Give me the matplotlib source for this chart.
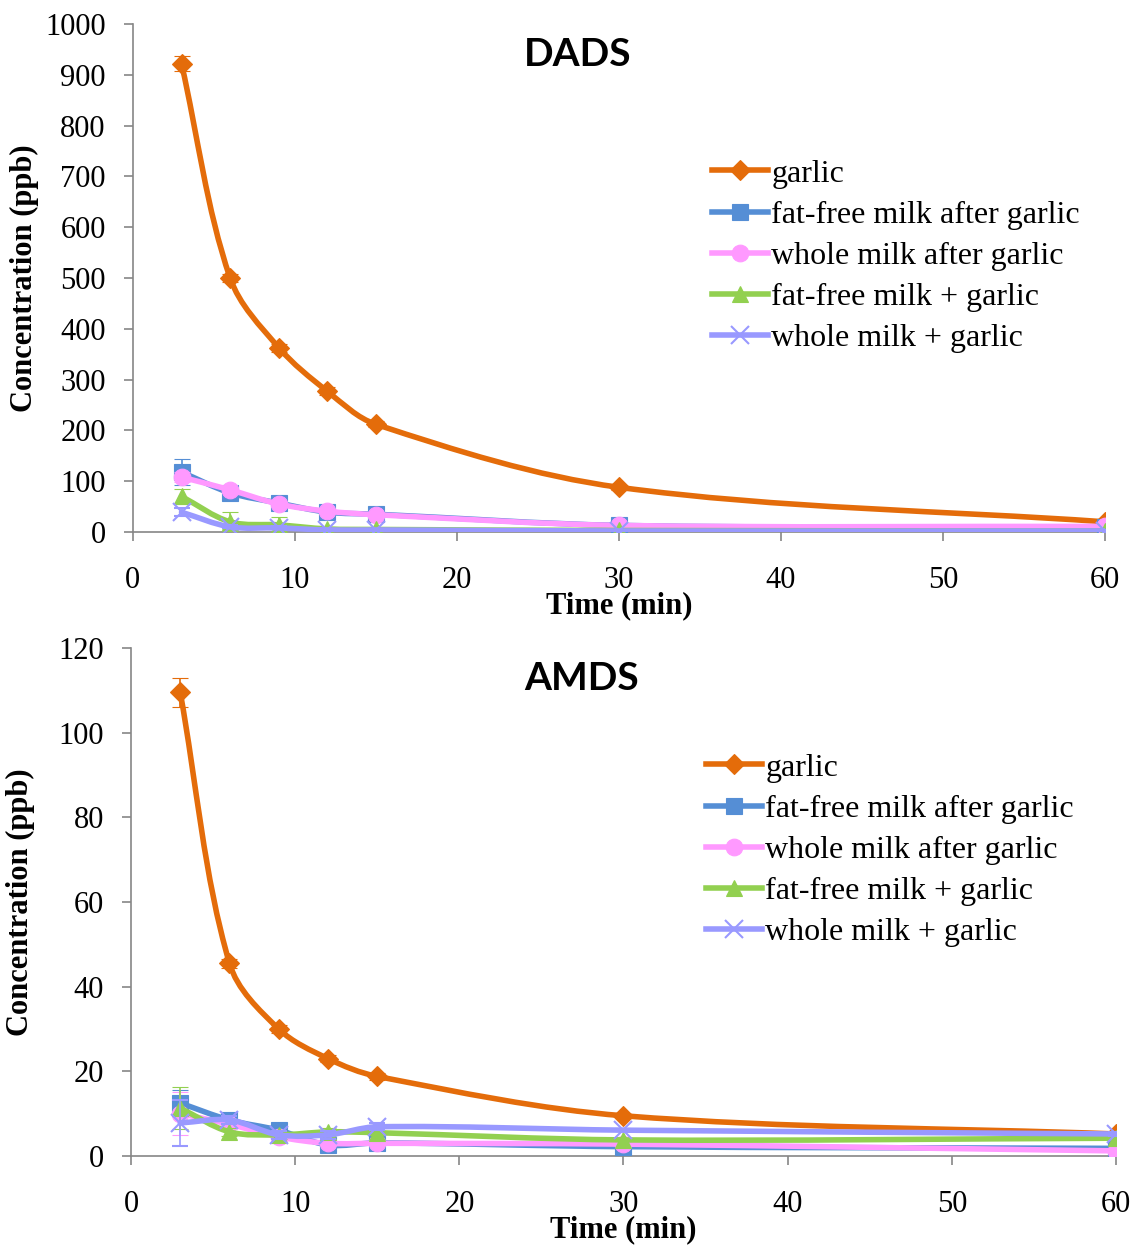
import numpy as np
import matplotlib
matplotlib.use('Agg')
import matplotlib.pyplot as plt
from matplotlib.path import Path
from matplotlib.patches import PathPatch
from matplotlib.lines import Line2D

plt.rcParams['font.family'] = ['Liberation Serif', 'DejaVu Serif']

time_min = [3, 6, 9, 12, 15, 30, 60]
labels = ['garlic', 'fat-free milk after garlic', 'whole milk after garlic',
          'fat-free milk + garlic', 'whole milk + garlic']

# DADS (ppb)
dads_garlic = [922, 500, 363, 277, 212, 88, 20]
dads_garlic_err = [15, 8, 8, 8, 6, 5, 3]
dads_ff_after = [118, 77, 57, 39, 35, 13, 9]
dads_ff_after_err = [26, 6, 5, 4, 3, 2, 1]
dads_whole_after = [108, 83, 55, 41, 34, 13, 11]
dads_whole_after_err = [10, 6, 5, 4, 3, 2, 1]
dads_ff_plus = [70, 20, 14, 6, 5, 3, 2]
dads_ff_plus_err = [15, 19, 15, 3, 2, 1, 1]
dads_whole_plus = [39, 10, 8, 4, 4, 2, 2]
dads_whole_plus_err = [8, 3, 3, 1, 1, 1, 1]

# AMDS (ppb)
amds_garlic = [109.5, 45.5, 30, 23, 18.8, 9.5, 5.2]
amds_garlic_err = [3.5, 1, 1, 0.8, 0.8, 0.5, 0.5]
amds_ff_after = [12.5, 8.5, 6.1, 2.6, 3.1, 2.2, 1.8]
amds_ff_after_err = [3, 1, 1, 0.5, 0.5, 0.3, 0.3]
amds_whole_after = [10, 7.5, 4.5, 3, 3, 2.8, 1.2]
amds_whole_after_err = [5, 1, 1, 0.5, 0.5, 0.3, 0.3]
amds_ff_plus = [11.3, 5.7, 5, 5.7, 5.5, 3.8, 4.2]
amds_ff_plus_err = [5, 1, 1, 1, 0.5, 0.3, 0.3]
amds_whole_plus = [7.8, 8.5, 5, 5, 6.9, 6.1, 5.2]
amds_whole_plus_err = [5.4, 1, 1, 1, 0.8, 0.3, 0.5]

colors = ['#E46C0A', '#558ED5', '#FF99FF', '#92D050', '#9999FF']
markers = ['D', 's', 'o', '^', 'x']
msizes = [10, 11, 12, 11, 13]


def smooth_path(ax, x, y):
    # smoothed line through the points: cubic Bezier with chord-length handles,
    # tangents computed in screen-like units so the shape doesn't depend on scale
    xmin, xmax = ax.get_xlim()
    ymin, ymax = ax.get_ylim()
    bbox = ax.get_position()
    fw, fh = ax.figure.get_size_inches()
    sx = bbox.width * fw / (xmax - xmin)
    sy = bbox.height * fh / (ymax - ymin)
    p = np.column_stack([np.asarray(x, float) * sx, np.asarray(y, float) * sy])
    n = len(p)
    d = np.hypot(*np.diff(p, axis=0).T)
    tang = np.zeros_like(p)
    for i in range(n):
        if i == 0:
            t = p[1] - p[0]
        elif i == n - 1:
            t = p[-1] - p[-2]
        else:
            t = (p[i + 1] - p[i - 1])
        tang[i] = t / np.hypot(*t)
    verts = [p[0]]
    codes = [Path.MOVETO]
    for i in range(n - 1):
        c1 = p[i] + tang[i] * d[i] / 3
        c2 = p[i + 1] - tang[i + 1] * d[i] / 3
        verts += [c1, c2, p[i + 1]]
        codes += [Path.CURVE4] * 3
    verts = np.array(verts) / [sx, sy]
    return Path(verts, codes)


def draw_panel(ax, series, errs, ymax, ystep, title, leg_anchor):
    ax.set_xlim(0, 60)
    ax.set_ylim(0, ymax)
    for k, (vals, err) in enumerate(zip(series, errs)):
        patch = PathPatch(smooth_path(ax, time_min, vals), facecolor='none',
                          edgecolor=colors[k], lw=4.0, capstyle='round',
                          joinstyle='round', zorder=2 + k)
        ax.add_patch(patch)
        ax.errorbar(time_min, vals, yerr=err, fmt=markers[k], color=colors[k],
                    ms=msizes[k], mew=1.5 if markers[k] == 'x' else 0.8,
                    ecolor=colors[k], elinewidth=1.2, capsize=6, capthick=1.2,
                    zorder=2 + k)
    ax.set_xticks(range(0, 61, 10))
    ax.set_yticks(np.arange(0, ymax + 1, ystep))
    for s in ['top', 'right']:
        ax.spines[s].set_visible(False)
    for s in ['left', 'bottom']:
        ax.spines[s].set_color('#868686')
        ax.spines[s].set_linewidth(1.2)
    ax.tick_params(direction='out', length=6.5, width=1.2, color='#868686',
                   labelsize=22, pad=13)
    ax.tick_params(axis='x', pad=18)
    ax.set_xlabel('Time (min)', fontsize=22, fontweight='bold')
    ax.xaxis.set_label_coords(0.5, -0.116)
    ax.set_ylabel('Concentration (ppb)', fontsize=22, fontweight='bold')
    ax.yaxis.set_label_coords(-0.097, 0.5)
    ax.text(0.457, 0.94, title, transform=ax.transAxes, ha='center',
            va='center', fontsize=28, fontweight='bold', family='Lato')
    handles = [Line2D([], [], color=colors[k], lw=4.0, marker=markers[k],
                      ms=msizes[k], mew=1.5 if markers[k] == 'x' else 0.8)
               for k in range(5)]
    ax.legend(handles, labels, loc='upper left', bbox_to_anchor=leg_anchor,
              frameon=False, borderpad=0, borderaxespad=0, handlelength=1.75,
              handletextpad=0.1, labelspacing=0.37, fontsize=23)


fig = plt.figure(figsize=(11.36, 12.45), dpi=100)
ax1 = fig.add_axes([0.117, 0.5727, 0.8557, 0.408])
ax2 = fig.add_axes([0.1153, 0.0715, 0.8671, 0.408])

draw_panel(ax1,
           [dads_garlic, dads_ff_after, dads_whole_after, dads_ff_plus, dads_whole_plus],
           [dads_garlic_err, dads_ff_after_err, dads_whole_after_err, dads_ff_plus_err,
            dads_whole_plus_err],
           1000, 100, 'DADS', (0.596, 0.734))
draw_panel(ax2,
           [amds_garlic, amds_ff_after, amds_whole_after, amds_ff_plus, amds_whole_plus],
           [amds_garlic_err, amds_ff_after_err, amds_whole_after_err, amds_ff_plus_err,
            amds_whole_plus_err],
           120, 20, 'AMDS', (0.584, 0.793))

fig.savefig('out.png', dpi=100)
